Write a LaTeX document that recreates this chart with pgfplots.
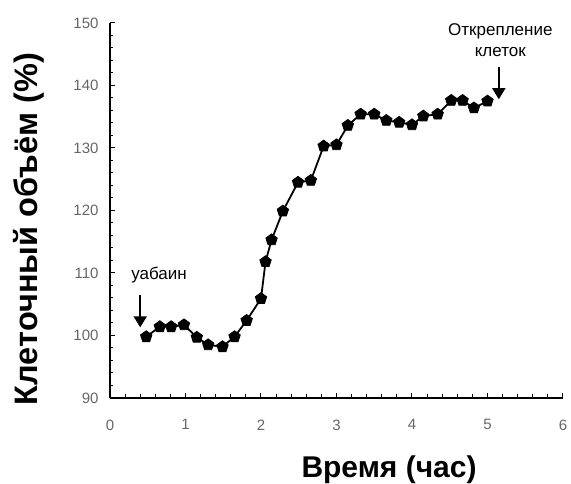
\documentclass[border=0pt]{standalone}
\usepackage{fontspec}
\setmainfont{Liberation Sans}
\usepackage{pgfplots}
\pgfplotsset{compat=1.18}
\usetikzlibrary{arrows.meta}
\begin{document}
\begin{tikzpicture}
\path[use as bounding box] (-110pt,-86pt) rectangle (461pt,398pt);
\begin{axis}[
  scale only axis, width=453pt, height=375pt,
  xmin=0, xmax=6, ymin=90, ymax=150,
  xtick={0,1,...,6}, ytick={90,100,...,150},
  minor x tick num=4, minor y tick num=4,
  axis x line*=bottom, axis y line*=left,
  axis line style={line width=1.5pt, -},
  tick style={black, line width=1pt},
  major tick length=5pt, minor tick length=3.5pt,
  /pgf/number format/assume math mode=true,
  tick label style={font=\fontsize{15}{17}\selectfont, text=black!60},
  yticklabel style={xshift=-8pt},
  xticklabel style={yshift=-18pt},
  xlabel={Время (час)},
  ylabel={Клеточный объём (\%)},
  xlabel style={font=\bfseries\fontsize{30}{33}\selectfont, at={(axis description cs:0.616,-0.192)}, anchor=center},
  ylabel style={font=\bfseries\fontsize{32.5}{35}\selectfont, at={(axis description cs:-0.179,0.451)}, anchor=center, rotate=0},
  clip=false,
]
\addplot[black, line width=1.8pt, mark=pentagon*, mark size=6pt, mark options={fill=black, line width=0.8pt}] coordinates {
(0.48,99.8) (0.66,101.4) (0.81,101.4) (0.98,101.7) (1.15,99.7) (1.30,98.5)
(1.49,98.2) (1.65,99.8) (1.81,102.4) (2.00,105.9) (2.06,111.8) (2.14,115.3)
(2.29,119.9) (2.49,124.5) (2.66,124.8) (2.83,130.3) (3.00,130.5) (3.15,133.6)
(3.32,135.4) (3.50,135.4) (3.66,134.4) (3.83,134.1) (4.00,133.7) (4.15,135.1)
(4.34,135.4) (4.52,137.6) (4.67,137.6) (4.82,136.4) (5.00,137.5)
};
\node[font=\fontsize{17}{19}\selectfont] at (axis cs:0.65,109.7) {уабаин};
\draw[line width=1.6pt,-{Triangle[length=11pt,width=13pt]}] (axis cs:0.40,106.5) -- (axis cs:0.40,101.3);
\node[font=\fontsize{17}{21}\selectfont, align=center] at (axis cs:5.17,147.2) {Открепление\\клеток};
\draw[line width=1.6pt,-{Triangle[length=11pt,width=13pt]}] (axis cs:5.15,143.0) -- (axis cs:5.15,137.8);
\end{axis}
\end{tikzpicture}
\end{document}
